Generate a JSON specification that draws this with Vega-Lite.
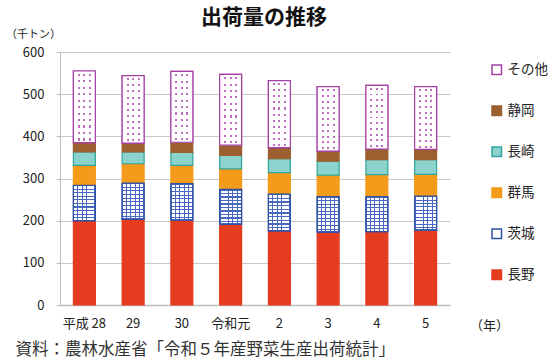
{
  "$schema": "https://vega.github.io/schema/vega-lite/v6.json",
  "width": 390,
  "height": 253,
  "autosize": {"type": "none"},
  "padding": {"left": 60, "top": 52, "right": 100, "bottom": 55},
  "background": "white",
  "config": {
    "font": "Noto Sans CJK JP",
    "view": {"stroke": null},
    "axis": {"labelFont": "Noto Sans CJK JP", "titleFont": "Noto Sans CJK JP", "labelColor": "#222", "titleColor": "#222"}
  },
  "title": {
    "text": "出荷量の推移",
    "fontSize": 21,
    "fontWeight": "bold",
    "color": "#111",
    "anchor": "middle",
    "frame": "group",
    "dx": 9,
    "offset": 0
  },
  "data": {
    "values": [
      {"yr": "平成28", "k": "長野", "v": 200}, {"yr": "平成28", "k": "茨城", "v": 84}, {"yr": "平成28", "k": "群馬", "v": 47}, {"yr": "平成28", "k": "長崎", "v": 32}, {"yr": "平成28", "k": "静岡", "v": 22}, {"yr": "平成28", "k": "その他", "v": 170},
      {"yr": "29", "k": "長野", "v": 203}, {"yr": "29", "k": "茨城", "v": 86}, {"yr": "29", "k": "群馬", "v": 46}, {"yr": "29", "k": "長崎", "v": 28}, {"yr": "29", "k": "静岡", "v": 21}, {"yr": "29", "k": "その他", "v": 160},
      {"yr": "30", "k": "長野", "v": 201}, {"yr": "30", "k": "茨城", "v": 87}, {"yr": "30", "k": "群馬", "v": 43}, {"yr": "30", "k": "長崎", "v": 31}, {"yr": "30", "k": "静岡", "v": 24}, {"yr": "30", "k": "その他", "v": 168},
      {"yr": "令和元", "k": "長野", "v": 191}, {"yr": "令和元", "k": "茨城", "v": 83}, {"yr": "令和元", "k": "群馬", "v": 49}, {"yr": "令和元", "k": "長崎", "v": 32}, {"yr": "令和元", "k": "静岡", "v": 24}, {"yr": "令和元", "k": "その他", "v": 168},
      {"yr": "2", "k": "長野", "v": 176}, {"yr": "2", "k": "茨城", "v": 87}, {"yr": "2", "k": "群馬", "v": 51}, {"yr": "2", "k": "長崎", "v": 33}, {"yr": "2", "k": "静岡", "v": 26}, {"yr": "2", "k": "その他", "v": 159},
      {"yr": "3", "k": "長野", "v": 173}, {"yr": "3", "k": "茨城", "v": 84}, {"yr": "3", "k": "群馬", "v": 51}, {"yr": "3", "k": "長崎", "v": 33}, {"yr": "3", "k": "静岡", "v": 24}, {"yr": "3", "k": "その他", "v": 153},
      {"yr": "4", "k": "長野", "v": 174}, {"yr": "4", "k": "茨城", "v": 83}, {"yr": "4", "k": "群馬", "v": 52}, {"yr": "4", "k": "長崎", "v": 36}, {"yr": "4", "k": "静岡", "v": 25}, {"yr": "4", "k": "その他", "v": 151},
      {"yr": "5", "k": "長野", "v": 177}, {"yr": "5", "k": "茨城", "v": 81}, {"yr": "5", "k": "群馬", "v": 52}, {"yr": "5", "k": "長崎", "v": 35}, {"yr": "5", "k": "静岡", "v": 24}, {"yr": "5", "k": "その他", "v": 149}
    ]
  },
  "transform": [
    {"stack": "v", "groupby": ["yr"], "as": ["v0", "v1"]}
  ],
  "encoding": {
    "x": {
      "field": "yr", "type": "nominal", "sort": null,
      "scale": {"paddingInner": 0.55, "paddingOuter": 0.275},
      "axis": {
        "labelAngle": 0, "labelFontSize": 13, "labelPadding": 12, "ticks": false,
        "labelExpr": "datum.value == '平成28' ? '平成 28' : datum.value",
        "domainColor": "#bdbdbd", "domainWidth": 1.5,
        "title": "資料：農林水産省「令和５年産野菜生産出荷統計」",
        "titleFontSize": 16.5, "titleFontWeight": "normal", "titleColor": "#333",
        "titleX": -45, "titleY": 49, "titleAlign": "left", "titleBaseline": "alphabetic"
      }
    },
    "y": {
      "field": "v0", "type": "quantitative",
      "scale": {"domain": [0, 600]},
      "axis": {
        "values": [0, 100, 200, 300, 400, 500, 600],
        "labelFontSize": 13, "labelPadding": 12, "tickSize": 4, "tickColor": "#bdbdbd",
        "domainColor": "#bdbdbd", "gridColor": "#c8c8c8",
        "title": "（千トン）", "titleAngle": 0, "titleFontSize": 11, "titleFontWeight": "normal",
        "titleX": -27, "titleY": -18, "titleAlign": "center", "titleBaseline": "middle"
      }
    },
    "y2": {"field": "v1"}
  },
  "layer": [
    {
      "mark": {"type": "bar", "strokeWidth": 1.2},
      "encoding": {
        "fill": {
          "field": "k", "type": "nominal",
          "scale": {"domain": ["その他", "静岡", "長崎", "群馬", "茨城", "長野"], "range": ["#ffffff", "#9c5f30", "#8cd3ce", "#f49b1b", "#ffffff", "#e53b1f"]},
          "legend": {
            "orient": "none", "legendX": 410, "legendY": 11, "direction": "vertical",
            "title": "（年）", "titleOrient": "bottom", "titleAnchor": "start", "titlePadding": 38,
            "titleFontSize": 13, "titleFontWeight": "normal", "titleColor": "#222",
            "rowPadding": 25, "symbolType": "square", "symbolSize": 90, "symbolStrokeWidth": 1.5,
            "symbolOffset": 20, "labelFontSize": 13.5, "labelColor": "#222", "labelOffset": 4, "padding": 0
          }
        },
        "stroke": {
          "field": "k", "type": "nominal",
          "scale": {"domain": ["その他", "静岡", "長崎", "群馬", "茨城", "長野"], "range": ["#a540a5", "#9c5f30", "#2fa59d", "#f49b1b", "#2f52a4", "#e53b1f"]},
          "legend": {
            "orient": "none", "legendX": 410, "legendY": 11, "direction": "vertical",
            "title": "（年）", "titleOrient": "bottom", "titleAnchor": "start", "titlePadding": 38,
            "titleFontSize": 13, "titleFontWeight": "normal", "titleColor": "#222",
            "rowPadding": 25, "symbolType": "square", "symbolSize": 90, "symbolStrokeWidth": 1.5,
            "symbolOffset": 20, "labelFontSize": 13.5, "labelColor": "#222", "labelOffset": 4, "padding": 0
          }
        }
      }
    },
    {
      "transform": [{"filter": "datum.k == '茨城'"}],
      "mark": {
        "type": "bar",
        "fill": {"gradient": "linear", "x1": 0, "y1": 0, "x2": 1, "y2": 0, "stops": [
          {"offset": 0, "color": "#4a68c0"}, {"offset": 0.04, "color": "#4a68c0"}, {"offset": 0.04, "color": "rgba(255,255,255,0)"},
          {"offset": 0.18, "color": "rgba(255,255,255,0)"}, {"offset": 0.18, "color": "#4a68c0"}, {"offset": 0.22, "color": "#4a68c0"}, {"offset": 0.22, "color": "rgba(255,255,255,0)"},
          {"offset": 0.38, "color": "rgba(255,255,255,0)"}, {"offset": 0.38, "color": "#4a68c0"}, {"offset": 0.42, "color": "#4a68c0"}, {"offset": 0.42, "color": "rgba(255,255,255,0)"},
          {"offset": 0.58, "color": "rgba(255,255,255,0)"}, {"offset": 0.58, "color": "#4a68c0"}, {"offset": 0.62, "color": "#4a68c0"}, {"offset": 0.62, "color": "rgba(255,255,255,0)"},
          {"offset": 0.78, "color": "rgba(255,255,255,0)"}, {"offset": 0.78, "color": "#4a68c0"}, {"offset": 0.82, "color": "#4a68c0"}, {"offset": 0.82, "color": "rgba(255,255,255,0)"},
          {"offset": 0.96, "color": "rgba(255,255,255,0)"}, {"offset": 0.96, "color": "#4a68c0"}, {"offset": 1, "color": "#4a68c0"}
        ]}
      },
      "encoding": {}
    },
    {
      "transform": [{"filter": "datum.k == '茨城'"}],
      "mark": {
        "type": "bar",
        "stroke": "#2f52a4", "strokeWidth": 1.2,
        "fill": {"gradient": "linear", "x1": 0, "y1": 0, "x2": 0, "y2": 1, "stops": [
          {"offset": 0, "color": "#4a68c0"}, {"offset": 0.03, "color": "#4a68c0"}, {"offset": 0.03, "color": "rgba(255,255,255,0)"},
          {"offset": 0.1, "color": "rgba(255,255,255,0)"}, {"offset": 0.1, "color": "#4a68c0"}, {"offset": 0.13, "color": "#4a68c0"}, {"offset": 0.13, "color": "rgba(255,255,255,0)"},
          {"offset": 0.2, "color": "rgba(255,255,255,0)"}, {"offset": 0.2, "color": "#4a68c0"}, {"offset": 0.23, "color": "#4a68c0"}, {"offset": 0.23, "color": "rgba(255,255,255,0)"},
          {"offset": 0.3, "color": "rgba(255,255,255,0)"}, {"offset": 0.3, "color": "#4a68c0"}, {"offset": 0.33, "color": "#4a68c0"}, {"offset": 0.33, "color": "rgba(255,255,255,0)"},
          {"offset": 0.4, "color": "rgba(255,255,255,0)"}, {"offset": 0.4, "color": "#4a68c0"}, {"offset": 0.43, "color": "#4a68c0"}, {"offset": 0.43, "color": "rgba(255,255,255,0)"},
          {"offset": 0.5, "color": "rgba(255,255,255,0)"}, {"offset": 0.5, "color": "#4a68c0"}, {"offset": 0.53, "color": "#4a68c0"}, {"offset": 0.53, "color": "rgba(255,255,255,0)"},
          {"offset": 0.6, "color": "rgba(255,255,255,0)"}, {"offset": 0.6, "color": "#4a68c0"}, {"offset": 0.63, "color": "#4a68c0"}, {"offset": 0.63, "color": "rgba(255,255,255,0)"},
          {"offset": 0.7, "color": "rgba(255,255,255,0)"}, {"offset": 0.7, "color": "#4a68c0"}, {"offset": 0.73, "color": "#4a68c0"}, {"offset": 0.73, "color": "rgba(255,255,255,0)"},
          {"offset": 0.8, "color": "rgba(255,255,255,0)"}, {"offset": 0.8, "color": "#4a68c0"}, {"offset": 0.83, "color": "#4a68c0"}, {"offset": 0.83, "color": "rgba(255,255,255,0)"},
          {"offset": 0.9, "color": "rgba(255,255,255,0)"}, {"offset": 0.9, "color": "#4a68c0"}, {"offset": 0.93, "color": "#4a68c0"}, {"offset": 0.93, "color": "rgba(255,255,255,0)"},
          {"offset": 0.97, "color": "rgba(255,255,255,0)"}, {"offset": 0.97, "color": "#4a68c0"}, {"offset": 1, "color": "#4a68c0"}
        ]}
      },
      "encoding": {}
    },
    {
      "transform": [{"filter": "datum.k == 'その他'"}],
      "mark": {
        "type": "bar",
        "fill": {"gradient": "linear", "x1": 0, "y1": 0, "x2": 0, "y2": 1, "stops": [
          {"offset": 0.04, "color": "#ffffff"}, {"offset": 0.04, "color": "#c06ec0"}, {"offset": 0.07, "color": "#c06ec0"}, {"offset": 0.07, "color": "#ffffff"},
          {"offset": 0.13, "color": "#ffffff"}, {"offset": 0.13, "color": "#c06ec0"}, {"offset": 0.16, "color": "#c06ec0"}, {"offset": 0.16, "color": "#ffffff"},
          {"offset": 0.22, "color": "#ffffff"}, {"offset": 0.22, "color": "#c06ec0"}, {"offset": 0.25, "color": "#c06ec0"}, {"offset": 0.25, "color": "#ffffff"},
          {"offset": 0.31, "color": "#ffffff"}, {"offset": 0.31, "color": "#c06ec0"}, {"offset": 0.34, "color": "#c06ec0"}, {"offset": 0.34, "color": "#ffffff"},
          {"offset": 0.40, "color": "#ffffff"}, {"offset": 0.40, "color": "#c06ec0"}, {"offset": 0.43, "color": "#c06ec0"}, {"offset": 0.43, "color": "#ffffff"},
          {"offset": 0.49, "color": "#ffffff"}, {"offset": 0.49, "color": "#c06ec0"}, {"offset": 0.52, "color": "#c06ec0"}, {"offset": 0.52, "color": "#ffffff"},
          {"offset": 0.58, "color": "#ffffff"}, {"offset": 0.58, "color": "#c06ec0"}, {"offset": 0.61, "color": "#c06ec0"}, {"offset": 0.61, "color": "#ffffff"},
          {"offset": 0.67, "color": "#ffffff"}, {"offset": 0.67, "color": "#c06ec0"}, {"offset": 0.70, "color": "#c06ec0"}, {"offset": 0.70, "color": "#ffffff"},
          {"offset": 0.76, "color": "#ffffff"}, {"offset": 0.76, "color": "#c06ec0"}, {"offset": 0.79, "color": "#c06ec0"}, {"offset": 0.79, "color": "#ffffff"},
          {"offset": 0.85, "color": "#ffffff"}, {"offset": 0.85, "color": "#c06ec0"}, {"offset": 0.88, "color": "#c06ec0"}, {"offset": 0.88, "color": "#ffffff"},
          {"offset": 0.94, "color": "#ffffff"}, {"offset": 0.94, "color": "#c06ec0"}, {"offset": 0.97, "color": "#c06ec0"}, {"offset": 0.97, "color": "#ffffff"}
        ]}
      },
      "encoding": {}
    },
    {
      "transform": [{"filter": "datum.k == 'その他'"}],
      "mark": {
        "type": "bar",
        "stroke": "#a540a5", "strokeWidth": 1.2,
        "fill": {"gradient": "linear", "x1": 0, "y1": 0, "x2": 1, "y2": 0, "stops": [
          {"offset": 0, "color": "#ffffff"}, {"offset": 0.2, "color": "#ffffff"}, {"offset": 0.2, "color": "rgba(255,255,255,0)"}, {"offset": 0.3, "color": "rgba(255,255,255,0)"}, {"offset": 0.3, "color": "#ffffff"},
          {"offset": 0.45, "color": "#ffffff"}, {"offset": 0.45, "color": "rgba(255,255,255,0)"}, {"offset": 0.55, "color": "rgba(255,255,255,0)"}, {"offset": 0.55, "color": "#ffffff"},
          {"offset": 0.7, "color": "#ffffff"}, {"offset": 0.7, "color": "rgba(255,255,255,0)"}, {"offset": 0.8, "color": "rgba(255,255,255,0)"}, {"offset": 0.8, "color": "#ffffff"},
          {"offset": 1, "color": "#ffffff"}
        ]}
      },
      "encoding": {}
    }
  ]
}
